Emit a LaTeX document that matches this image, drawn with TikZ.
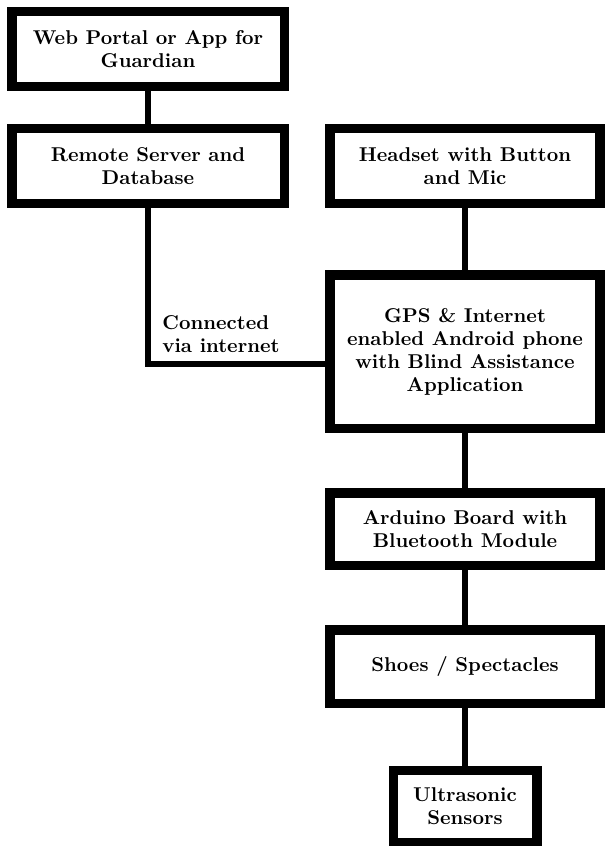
\documentclass[tikz,border=0pt]{standalone}
\usepackage{amsmath,amssymb}
\usepackage{tikz}
\usetikzlibrary{shapes.geometric, arrows}
\usetikzlibrary{calc,positioning}

\begin{document}
\begin{tikzpicture}[x=0.5pt,y=0.5pt,yscale=-1,xscale=1]
  \useasboundingbox (0,0) rectangle (605,846);
  \tikzstyle{block} = [draw,line width=4.75pt,align=center,inner sep=0pt,font=\fontsize{10}{11.5}\selectfont\bfseries]
  \tikzstyle{wide} = [block,minimum width=136.25pt,minimum height=37.5pt]
  \tikzstyle{link} = [line width=3pt]
  %Draw the guardian side
  \node[wide] (web) at (148,49) {Web Portal or App for\\Guardian};
  \node[wide] (server) at (148,166) {Remote Server and\\Database};
  %Draw the user side
  \node[wide,minimum width=135pt] (headset) at (465,166) {Headset with Button\\and Mic};
  \node[wide,minimum width=135pt,minimum height=76.75pt] (phone) at (465,351.5) {GPS \& Internet\\enabled Android phone\\with Blind Assistance\\Application};
  \node[wide,minimum width=135pt,minimum height=36.25pt] (arduino) at (465,529) {Arduino Board with\\Bluetooth Module};
  \node[wide,minimum width=135pt,minimum height=36.75pt] (shoes) at (465,666.5) {Shoes / Spectacles};
  \node[block,minimum width=71.75pt,minimum height=36.25pt] (sensors) at (465,806.5) {Ultrasonic\\Sensors};
  %Draw the connections
  \draw[link] (web) -- (server);
  \draw[link] (headset) -- (phone);
  \draw[link] (phone) -- (arduino);
  \draw[link] (arduino) -- (shoes);
  \draw[link] (shoes) -- (sensors);
  \coordinate (bend) at (148,364);
  \draw[link] (server) -- (bend) -- (bend -| phone.west);
  % Label the internet link
  \node[anchor=south west,align=left,inner sep=0pt,font=\fontsize{10}{11.5}\selectfont\bfseries] (netlabel) at ([shift={(14,-11)}]bend) {Connected\\via internet};
\end{tikzpicture}
\end{document}
